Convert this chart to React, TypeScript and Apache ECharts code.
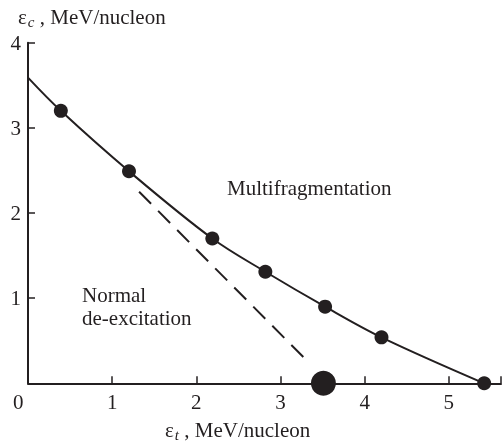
import React, { useEffect, useRef } from "react";
import * as echarts from "echarts";

// Measured points along the boundary curve (MeV/nucleon)
const epsT = [0.39, 1.2, 2.19, 2.82, 3.53, 4.2, 5.42];
const epsC = [3.2, 2.49, 1.7, 1.31, 0.9, 0.54, 0.0];
// Where the curve meets the vertical axis
const curveStart = [0, 3.59];
// Dashed extrapolation line (start and end)
const dashedX = [1.32, 3.31];
const dashedY = [2.25, 0.27];
// The large marker on the horizontal axis
const bigPoint = [3.51, 0];

const xTicks = [0, 1, 2, 3, 4, 5];
const yTicks = [0, 1, 2, 3, 4];

const INK = "#231f20";
const FONT = "Liberation Serif";

export default function App() {
  const ref = useRef<HTMLDivElement>(null);

  useEffect(() => {
    if (!ref.current) return;
    const chart = echarts.init(ref.current, undefined, { renderer: "svg" });

    const dots = epsT.map((x, i) => [x, epsC[i]]);
    const curve = [curveStart, ...dots];
    const dashed = dashedX.map((x, i) => [x, dashedY[i]]);

    const labelStyle = { color: INK, fontFamily: FONT, fontSize: 21 };

    chart.setOption({
      animation: false,
      grid: { left: 28, right: 0, top: 42.7, bottom: 60.7 },
      xAxis: {
        type: "value",
        min: 0,
        max: 5.62,
        interval: 1,
        axisLine: { show: true, lineStyle: { color: INK, width: 2 } },
        axisTick: { show: true, inside: true, length: 7, lineStyle: { color: INK, width: 1.5 } },
        axisLabel: {
          ...labelStyle,
          margin: 8,
          showMinLabel: false,
          formatter: (v: number) => (xTicks.includes(v) && v !== 0 ? String(v) : ""),
        },
        splitLine: { show: false },
      },
      yAxis: {
        type: "value",
        min: 0,
        max: 4,
        interval: 1,
        axisLine: { show: true, lineStyle: { color: INK, width: 2 } },
        axisTick: { show: true, inside: true, length: 7, lineStyle: { color: INK, width: 1.5 } },
        axisLabel: {
          ...labelStyle,
          margin: 7,
          showMinLabel: false,
          formatter: (v: number) => (yTicks.includes(v) && v !== 0 ? String(v) : ""),
        },
        splitLine: { show: false },
      },
      series: [
        {
          type: "line",
          data: curve,
          smooth: 0.35,
          showSymbol: false,
          symbol: "none",
          lineStyle: { color: INK, width: 2 },
          z: 2,
        },
        {
          type: "line",
          data: dashed,
          showSymbol: false,
          symbol: "none",
          lineStyle: { color: INK, width: 2, type: [17, 10] },
          z: 2,
        },
        {
          type: "scatter",
          data: dots,
          symbol: "circle",
          symbolSize: 14,
          itemStyle: { color: INK, opacity: 1 },
          z: 3,
        },
        {
          type: "scatter",
          data: [bigPoint],
          symbol: "circle",
          symbolSize: 25,
          itemStyle: { color: INK, opacity: 1 },
          z: 3,
        },
      ],
      graphic: [
        {
          type: "text",
          left: 13,
          top: 391,
          style: { text: "0", fontFamily: FONT, fontSize: 21, fill: INK },
        },
        {
          type: "text",
          left: 18,
          top: 4,
          style: {
            text: "{e|ε}{s|c}{e| , MeV/nucleon}",
            fontFamily: FONT,
            fontSize: 21,
            fill: INK,
            rich: {
              e: { fontFamily: FONT, fontSize: 21, fill: INK, lineHeight: 26 },
              s: { fontFamily: FONT, fontSize: 15, fontStyle: "italic", fill: INK, padding: [10, 0, 0, 1], lineHeight: 26 },
            },
          },
        },
        {
          type: "text",
          left: 165,
          top: 417,
          style: {
            text: "{e|ε}{s|t}{e| , MeV/nucleon}",
            fontFamily: FONT,
            fontSize: 21,
            fill: INK,
            rich: {
              e: { fontFamily: FONT, fontSize: 21, fill: INK, lineHeight: 26 },
              s: { fontFamily: FONT, fontSize: 15, fontStyle: "italic", fill: INK, padding: [10, 0, 0, 1], lineHeight: 26 },
            },
          },
        },
        {
          type: "text",
          left: 227,
          top: 177,
          style: { text: "Multifragmentation", fontFamily: FONT, fontSize: 21, fill: INK },
        },
        {
          type: "text",
          left: 82,
          top: 283,
          style: { text: "Normal\nde-excitation", fontFamily: FONT, fontSize: 21, fill: INK, lineHeight: 23 },
        },
      ],
    });

    return () => chart.dispose();
  }, []);

  return <div ref={ref} style={{ position: "fixed", left: 0, top: 0, width: 504, height: 444 }} />;
}
